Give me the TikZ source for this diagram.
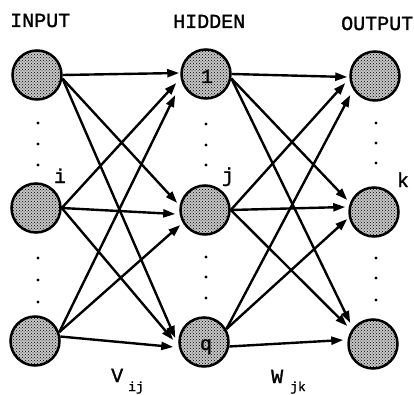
\documentclass[tikz,border=0pt]{standalone}
\usepackage{fontspec}
\setmonofont{Liberation Mono}[BoldFont=Liberation Mono,BoldFeatures={FakeBold=1.4}]
\usetikzlibrary{arrows.meta,patterns,calc}
\begin{document}
\begin{tikzpicture}[x=1pt,y=-1pt,
  neuron/.style={circle,draw,line width=2.5pt,minimum size=49pt,inner sep=0pt,fill=gray!45,postaction={pattern=crosshatch dots}},
  conn/.style={line width=2.4pt,-{Triangle[length=12pt,width=8pt]}},
  lbl/.style={font=\ttfamily\bfseries\fontsize{20}{20}\selectfont,inner sep=0pt},
  sub/.style={font=\ttfamily\bfseries\fontsize{13}{13}\selectfont,inner sep=0pt},
  vdot/.style={circle,fill,inner sep=0pt,minimum size=3.4pt}]
\useasboundingbox (0,0) rectangle (414,395);
% headings
\node[lbl,anchor=base west] (tin) at (10,27) {INPUT};
\node[lbl,anchor=base west] (thid) at (173,28) {HIDDEN};
\node[lbl,anchor=base west] (tout) at (341,30) {OUTPUT};
% neurons
\node[neuron] (i1) at (37,75) {};
\node[neuron] (i2) at (36,208) {};
\node[neuron] (i3) at (35,341) {};
\node[neuron] (h1) at (206,74) {};
\node[neuron] (h2) at (205,210) {};
\node[neuron] (h3) at (204,342) {};
\node[neuron] (o1) at (375,76) {};
\node[neuron] (o2) at (374,212) {};
\node[neuron] (o3) at (373,344) {};
% texts
\node[lbl,anchor=base] (t1) at (207,83) {1};
\node[lbl,anchor=base] (tq) at (206,350) {q};
\node[lbl,anchor=base] (ti) at (60,183) {i};
\node[lbl,anchor=base] (tj) at (228,182) {j};
\node[lbl,anchor=base] (tk) at (403,187) {k};
\node[lbl,anchor=base west] (tv) at (111,382) {V};
\node[sub,anchor=base west] (tvs) at (128,391) {ij};
\node[lbl,anchor=base west] (tw) at (271,383) {W};
\node[sub,anchor=base west] (tws) at (290,391) {jk};
% dots
\foreach \y [count=\n] in {123,144,165,258,280,302} \node[vdot] (di\n) at (38,\y) {};
\foreach \y [count=\n] in {124,145,165,257,277,298} \node[vdot] (dh\n) at (206,\y) {};
\foreach \y [count=\n] in {123,143,163,258,278,300} \node[vdot] (do\n) at (376,\y) {};
% input -> hidden
\draw[conn] (i1.east) -- ($(h1.west)+(-1,-1)$);
\draw[conn] (i1.-8) -- ($(h2.west)+(-2,-7)$);
\draw[conn] (i1.-8) -- ($(h3.west)+(-3,-4)$);
\draw[conn] (i2.east) -- ($(h1.west)+(-4,9)$);
\draw[conn] (i2.east) -- ($(h2.west)+(-4,4)$);
\draw[conn] (i2.east) -- ($(h3.west)+(-5,-2)$);
\draw[conn] (i3.20) -- ($(h1.west)+(-5,21)$);
\draw[conn] (i3.20) -- ($(h2.west)+(1,15)$);
\draw[conn] (i3.10) -- ($(h3.west)+(-5,5)$);
% hidden -> output
\draw[conn] (h1.east) -- ($(o1.west)+(-2,1)$);
\draw[conn] (h1.-10) -- ($(o2.west)+(-1,-12)$);
\draw[conn] (h1.-10) -- ($(o3.west)+(3,-21)$);
\draw[conn] (h2.east) -- ($(o1.west)+(-4,7)$);
\draw[conn] (h2.east) -- ($(o2.west)+(-3,-5)$);
\draw[conn] (h2.east) -- ($(o3.west)+(0,-18)$);
\draw[conn] (h3.30) -- ($(o1.west)+(1,19)$);
\draw[conn] (h3.30) -- ($(o2.west)+(-1,7)$);
\draw[conn] (h3.-10) -- ($(o3.west)+(-4,-4)$);
\end{tikzpicture}
\end{document}
